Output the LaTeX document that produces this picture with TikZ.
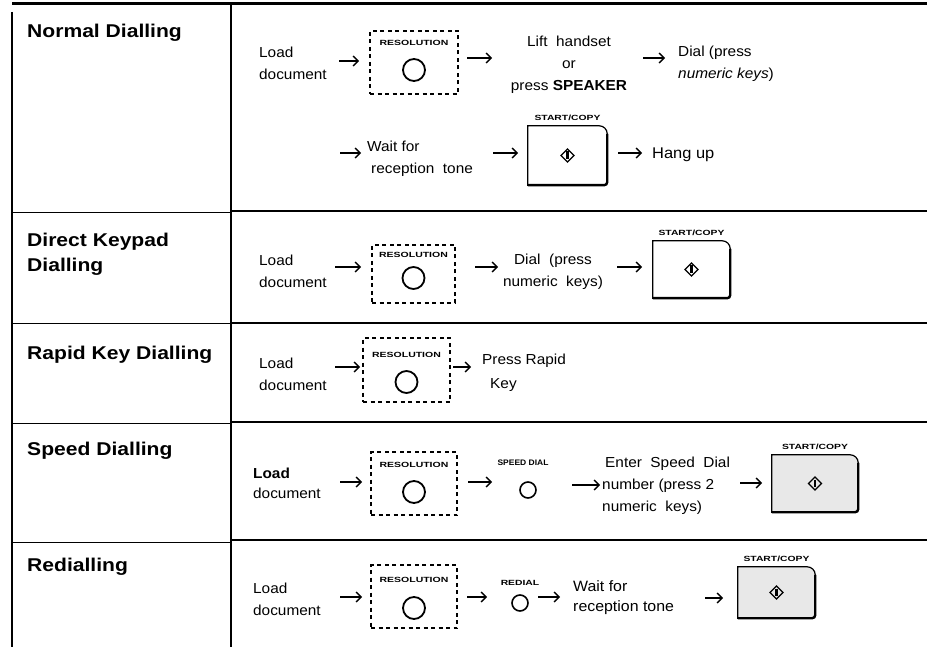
\documentclass[tikz,border=0pt]{standalone}
\usepackage{graphicx}
\usepackage{fontspec}
\setmainfont{Liberation Sans}[FakeStretch=1.06]
\newfontfamily\headfont{Liberation Sans}[FakeStretch=1.14]
\usetikzlibrary{arrows.meta}
\tikzset{
  body/.style={inner sep=0pt, font=\fontsize{14.5}{22}\selectfont, align=left},
  bodyc/.style={inner sep=0pt, font=\fontsize{14.5}{22}\selectfont, align=center},
  head/.style={inner sep=0pt, font=\headfont\bfseries\fontsize{18.5}{24}\selectfont, anchor=base west},
  arr/.style={line width=1.3pt, -{Straight Barb[length=5pt,width=10pt,line width=1.3pt]}},
  resbox/.style={draw, dash pattern=on 4pt off 3.5pt, line width=1.2pt, inner sep=0pt},
  btn/.style={draw, circle, line width=1.8pt, minimum size=22pt, inner sep=0pt},
  smallbtn/.style={draw, circle, line width=1.6pt, minimum size=16pt, inner sep=0pt},
  keylabel/.style={inner sep=0pt, font=\fontsize{7.5}{8}\selectfont\bfseries},
  rowlineR/.style={line width=2.5pt},
  rowlineL/.style={line width=0.9pt},
  frame/.style={line width=2pt},
}
% start/copy key: #1 name, #2 cx, #3 cy, #4 width, #5 height, #6 fill
\newcommand\mkstart[6]{%
  \node[inner sep=0pt, minimum width=#4pt, minimum height=#5pt] (#1) at (#2,#3) {};
  \draw[line width=1.2pt, fill=#6] (#1.south west) -- (#1.north west) -- ([xshift=-8pt]#1.north east)
     arc[start angle=90, end angle=0, radius=8pt] -- ([yshift=3pt]#1.south east)
     arc[start angle=0, end angle=-90, radius=3pt] -- cycle;
  \draw[line width=2.4pt] ([yshift=-8pt]#1.north east) -- ([yshift=3pt]#1.south east)
     arc[start angle=0, end angle=-90, radius=3pt] -- (#1.south west);
  \draw[line width=1.4pt] ([yshift=6.5pt]#1.center) -- ([xshift=6.5pt]#1.center) -- ([yshift=-6.5pt]#1.center) -- ([xshift=-6.5pt]#1.center) -- cycle;
  \draw[line width=2.2pt] ([yshift=4pt]#1.center) -- ([yshift=-3.5pt]#1.center);
  \node[keylabel, anchor=base] (#1l) at ([yshift=5.3pt]#1.north) {\scalebox{1.3}[1]{START/COPY}};
}
% resolution key: #1 name, #2 cx, #3 cy, #4 w, #5 h, #6 label y, #7 circle y
\newcommand\mkres[7]{%
  \node[resbox, minimum width=#4pt, minimum height=#5pt] (#1) at (#2,#3) {};
  \node[keylabel] (#1l) at (#2,#6) {\scalebox{1.32}[1]{RESOLUTION}};
  \node[btn] (#1b) at (#2,#7) {};
}
\begin{document}
\begin{tikzpicture}[x=1pt,y=1pt]
\useasboundingbox (0,0) rectangle (927,-647);
% frame
\coordinate (tl) at (12,-4); \coordinate (tr) at (927,-4);
\coordinate (lt) at (12,-12); \coordinate (lb) at (12,-647);
\coordinate (mt) at (231,-4); \coordinate (mb) at (231,-647);
\draw[line width=3pt] (tl) -- (tr);
\draw[frame] (lt) -- (lb);
\draw[frame] (mt) -- (mb);
\foreach \yl/\yr in {212/211, 323/323, 423/422, 542/540}{
  \draw[rowlineL] (12,-\yl) -- (231,-\yl);
  \draw[rowlineR] (231,-\yr) -- (927,-\yr);
}
% headings
\node[head] (h1) at (27,-37.5) {Normal Dialling};
\node[head] (h2a) at (27,-246.5) {Direct Keypad};
\node[head] (h2b) at (27,-271.5) {Dialling};
\node[head] (h3) at (27,-359.5) {Rapid Key Dialling};
\node[head] (h4) at (27,-455) {Speed Dialling};
\node[head] (h5) at (27,-571.5) {Redialling};

% ---- Row 1
\node[body, anchor=west] (ld1) at (259,-63) {Load\\document};
\coordinate (a1s) at (339,-61); \coordinate (a1e) at (359,-61);
\draw[arr] (a1s) -- (a1e);
\mkres{res1}{414}{-62.5}{88}{63}{-43}{-70}
\coordinate (a2s) at (467,-58); \coordinate (a2e) at (492,-58);
\draw[arr] (a2s) -- (a2e);
\node[bodyc] (lift) at (569,-65) {Lift\ \ handset\\or\\press \textbf{SPEAKER}};
\coordinate (a3s) at (643,-58); \coordinate (a3e) at (665,-58);
\draw[arr] (a3s) -- (a3e);
\node[body, anchor=west] (dial1) at (678,-64) {Dial (press\\\textit{numeric keys})};
\coordinate (a4s) at (340,-153); \coordinate (a4e) at (361,-153);
\draw[arr] (a4s) -- (a4e);
\node[body, anchor=west] (wait1) at (367,-159) {Wait for\\\hspace{4pt}reception\ \ tone};
\coordinate (a5s) at (493,-153); \coordinate (a5e) at (518,-153);
\draw[arr] (a5s) -- (a5e);
\mkstart{sc1}{567.5}{-155.5}{79}{59}{white}
\coordinate (a6s) at (618,-153); \coordinate (a6e) at (642,-153);
\draw[arr] (a6s) -- (a6e);
\node[body, anchor=west, font=\fontsize{15.5}{22}\selectfont] (hang) at (652,-155) {Hang up};

% ---- Row 2
\node[body, anchor=west] (ld2) at (259,-271) {Load\\document};
\coordinate (a7s) at (335,-267); \coordinate (a7e) at (361,-267);
\draw[arr] (a7s) -- (a7e);
\mkres{res2}{413.5}{-274}{83}{58}{-255}{-278}
\coordinate (a8s) at (475,-267); \coordinate (a8e) at (498,-267);
\draw[arr] (a8s) -- (a8e);
\node[bodyc] (dial2) at (553,-272) {Dial\ \ (press\\numeric\ \ keys)};
\coordinate (a9s) at (617,-267); \coordinate (a9e) at (642,-267);
\draw[arr] (a9s) -- (a9e);
\mkstart{sc2}{691.5}{-269.5}{77}{57}{white}

% ---- Row 3
\node[body, anchor=west] (ld3) at (259,-374) {Load\\document};
\coordinate (a10s) at (335,-367); \coordinate (a10e) at (360,-367);
\draw[arr] (a10s) -- (a10e);
\mkres{res3}{406.5}{-370}{87}{64}{-355}{-382}
\coordinate (a11s) at (453,-367); \coordinate (a11e) at (471,-367);
\draw[arr] (a11s) -- (a11e);
\node[body, anchor=west, font=\fontsize{14.5}{24}\selectfont] (rapid) at (482,-373) {Press Rapid\\\hspace{8pt}Key};

% ---- Row 4
\node[body, anchor=west, font=\fontsize{14.5}{20}\selectfont] (ld4) at (253,-483) {\textbf{Load}\\document};
\coordinate (a12s) at (340,-482); \coordinate (a12e) at (362,-482);
\draw[arr] (a12s) -- (a12e);
\mkres{res4}{414}{-483.5}{86}{63}{-465}{-492}
\coordinate (a13s) at (468,-482); \coordinate (a13e) at (492,-482);
\draw[arr] (a13s) -- (a13e);
\node[keylabel, font=\fontsize{8}{9}\selectfont\bfseries] (spdl) at (523,-463) {SPEED DIAL};
\node[smallbtn] (spd) at (528,-490) {};
\coordinate (a14s) at (572,-485); \coordinate (a14e) at (600,-485);
\draw[arr] (a14s) -- (a14e);
\node[body, anchor=west] (enter) at (602,-486) {\hspace{3pt}Enter\ \ Speed\ \ Dial\\number (press 2\\numeric\ \ keys)};
\coordinate (a15s) at (740,-483); \coordinate (a15e) at (762,-483);
\draw[arr] (a15s) -- (a15e);
\mkstart{sc4}{815}{-483.5}{86}{57}{gray!18}

% ---- Row 5
\node[body, anchor=west] (ld5) at (253,-599) {Load\\document};
\coordinate (a16s) at (340,-597); \coordinate (a16e) at (362,-597);
\draw[arr] (a16s) -- (a16e);
\mkres{res5}{414}{-596.5}{86}{63}{-580}{-608}
\coordinate (a17s) at (467,-597); \coordinate (a17e) at (487,-597);
\draw[arr] (a17s) -- (a17e);
\node[keylabel] (redl) at (520,-583) {\scalebox{1.3}[1]{REDIAL}};
\node[smallbtn] (red) at (520,-603) {};
\coordinate (a18s) at (538,-597); \coordinate (a18e) at (560,-597);
\draw[arr] (a18s) -- (a18e);
\node[body, anchor=west, font=\fontsize{15}{20}\selectfont] (wait2) at (573,-598) {Wait for\\reception tone};
\coordinate (a19s) at (705,-598); \coordinate (a19e) at (723,-598);
\draw[arr] (a19s) -- (a19e);
\mkstart{sc5}{776.5}{-592.5}{77}{51}{gray!18}
\end{tikzpicture}
\end{document}
